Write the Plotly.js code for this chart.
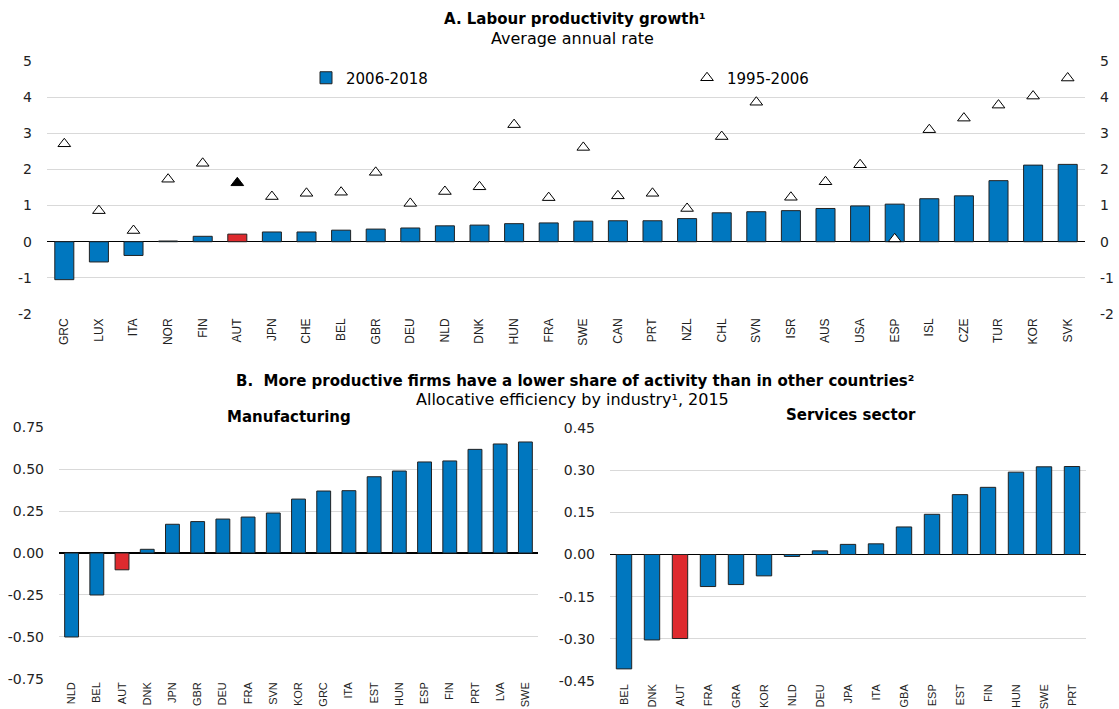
<!DOCTYPE html>
<html>
<head>
<meta charset="utf-8">
<script src="https://cdn.plot.ly/plotly-3.0.1.min.js"></script>
<style>
  html, body { margin: 0; padding: 0; background: #fff; }
  #plot { width: 1119px; height: 709px; }
</style>
</head>
<body>
<div id="plot"></div>
<script>
// Panel A: labour productivity growth, average annual rate
const countriesA = ['GRC', 'LUX', 'ITA', 'NOR', 'FIN', 'AUT', 'JPN', 'CHE', 'BEL', 'GBR',
  'DEU', 'NLD', 'DNK', 'HUN', 'FRA', 'SWE', 'CAN', 'PRT', 'NZL', 'CHL',
  'SVN', 'ISR', 'AUS', 'USA', 'ESP', 'ISL', 'CZE', 'TUR', 'KOR', 'SVK'];
const growth2006_2018 = [-1.05, -0.56, -0.38, 0.02, 0.15, 0.21, 0.27, 0.27, 0.32, 0.35,
  0.38, 0.44, 0.46, 0.50, 0.52, 0.57, 0.58, 0.58, 0.64, 0.80,
  0.83, 0.86, 0.92, 0.99, 1.04, 1.19, 1.27, 1.69, 2.12, 2.14];
const growth1995_2006 = [2.71, 0.86, 0.31, 1.73, 2.17, 1.63, 1.25, 1.34, 1.37, 1.92,
  1.06, 1.39, 1.52, 3.24, 1.22, 2.61, 1.27, 1.34, 0.92, 2.91,
  3.86, 1.23, 1.66, 2.13, 0.08, 3.10, 3.42, 3.78, 4.03, 4.53];
const ticksA = [-2, -1, 0, 1, 2, 3, 4, 5];

// Panel B: allocative efficiency by industry, 2015
const countriesManuf = ['NLD', 'BEL', 'AUT', 'DNK', 'JPN', 'GBR', 'DEU', 'FRA', 'SVN', 'KOR',
  'GRC', 'ITA', 'EST', 'HUN', 'ESP', 'FIN', 'PRT', 'LVA', 'SWE'];
const manufacturing = [-0.50, -0.25, -0.10, 0.022, 0.171, 0.187, 0.202, 0.214, 0.238, 0.321,
  0.369, 0.371, 0.454, 0.488, 0.542, 0.548, 0.617, 0.649, 0.661];
const ticksManuf = [-0.75, -0.5, -0.25, 0, 0.25, 0.5, 0.75];

const countriesServ = ['BEL', 'DNK', 'AUT', 'FRA', 'GRA', 'KOR', 'NLD', 'DEU', 'JPA', 'ITA',
  'GBA', 'ESP', 'EST', 'FIN', 'HUN', 'SWE', 'PRT'];
const services = [-0.407, -0.304, -0.299, -0.114, -0.107, -0.076, -0.007, 0.013, 0.036, 0.038,
  0.098, 0.143, 0.213, 0.239, 0.293, 0.312, 0.313];
const ticksServ = [-0.45, -0.3, -0.15, 0, 0.15, 0.3, 0.45];

const BLUE = '#0077bf';
const RED = '#de2a2e';
const FONT = 'DejaVu Sans, Liberation Sans, Arial, sans-serif';
const LABEL_FONT = 'Liberation Sans, Arial, sans-serif';
const GRID = '#d9d9d9';

function barColors(cats) {
  return cats.map(c => c === 'AUT' ? RED : BLUE);
}

const traces = [
  {
    type: 'bar', x: countriesA, y: growth2006_2018, name: '2006-2018',
    marker: { color: barColors(countriesA), line: { color: '#222', width: 1 } },
    xaxis: 'x', yaxis: 'y', legend: 'legend'
  },
  {
    type: 'scatter', mode: 'markers', x: countriesA, y: growth1995_2006, name: '1995-2006',
    marker: {
      symbol: 'triangle-up', size: 11,
      color: countriesA.map(c => c === 'AUT' ? '#000' : '#fff'),
      line: { color: '#000', width: 1 }
    },
    xaxis: 'x', yaxis: 'y', legend: 'legend2'
  },
  {
    // carries the right-hand axis of panel A
    type: 'scatter', mode: 'markers', x: countriesA, y: growth2006_2018,
    marker: { opacity: 0 }, showlegend: false, hoverinfo: 'skip',
    xaxis: 'x', yaxis: 'y2'
  },
  {
    type: 'bar', x: countriesManuf, y: manufacturing, showlegend: false,
    marker: { color: barColors(countriesManuf), line: { color: '#222', width: 1 } },
    xaxis: 'x2', yaxis: 'y3'
  },
  {
    type: 'bar', x: countriesServ, y: services, showlegend: false,
    marker: { color: barColors(countriesServ), line: { color: '#222', width: 1 } },
    xaxis: 'x3', yaxis: 'y4'
  }
];

const W = 1119, H = 709;
const px = v => v / W;
const py = v => 1 - v / H;

const xBase = {
  type: 'category', tickangle: -90, showgrid: false, zeroline: false,
  showline: false, ticks: '', tickfont: { family: LABEL_FONT, size: 12, color: '#222' },
  ticklabelstandoff: 1, fixedrange: true
};
const xBottom = Object.assign({}, xBase, {
  tickfont: { family: LABEL_FONT, size: 11, color: '#222' }, ticklabelstandoff: 0
});
const yBase = {
  showgrid: true, gridcolor: GRID, gridwidth: 1,
  zeroline: true, zerolinecolor: '#000', zerolinewidth: 1.5,
  showline: false, ticks: '', tickfont: { size: 14, color: '#222' },
  ticklabelstandoff: 14, fixedrange: true
};

const layout = {
  width: W, height: H,
  margin: { l: 0, r: 0, t: 0, b: 0 },
  paper_bgcolor: '#fff', plot_bgcolor: '#fff',
  font: { family: FONT, color: '#000', size: 14 },
  barmode: 'group',
  bargap: 0.45,
  showlegend: true,
  legend: {
    x: px(306), y: py(78), xanchor: 'left', yanchor: 'middle',
    bgcolor: 'rgba(0,0,0,0)', font: { size: 15 }, itemwidth: 30
  },
  legend2: {
    x: px(687), y: py(78), xanchor: 'left', yanchor: 'middle',
    bgcolor: 'rgba(0,0,0,0)', font: { size: 15 }, itemwidth: 30
  },
  xaxis: Object.assign({}, xBase, {
    domain: [px(47), px(1085)], anchor: 'y', range: [-0.5, countriesA.length - 0.5]
  }),
  yaxis: Object.assign({}, yBase, {
    domain: [py(314), py(61)], anchor: 'x', range: [-2, 5.001],
    tickvals: ticksA, ticktext: ticksA.map(String)
  }),
  yaxis2: Object.assign({}, yBase, {
    overlaying: 'y', side: 'right', anchor: 'x', range: [-2, 5.001],
    showgrid: false, zeroline: false,
    tickvals: ticksA, ticktext: ticksA.map(String)
  }),
  xaxis2: Object.assign({}, xBottom, {
    domain: [px(59), px(538)], anchor: 'y3', range: [-0.5, countriesManuf.length - 0.5]
  }),
  yaxis3: Object.assign({}, yBase, {
    domain: [py(679), py(427)], anchor: 'x2', range: [-0.7501, 0.7501],
    tickvals: ticksManuf, ticktext: ticksManuf.map(v => v.toFixed(2))
  }),
  xaxis3: Object.assign({}, xBottom, {
    domain: [px(610), px(1086)], anchor: 'y4', range: [-0.5, countriesServ.length - 0.5]
  }),
  yaxis4: Object.assign({}, yBase, {
    domain: [py(681), py(428)], anchor: 'x3', range: [-0.4501, 0.4501],
    tickvals: ticksServ, ticktext: ticksServ.map(v => v.toFixed(2))
  }),
  annotations: [
    { text: '<b>A. Labour productivity growth¹</b>', x: px(575), y: py(19), xref: 'paper', yref: 'paper',
      showarrow: false, xanchor: 'center', yanchor: 'middle', font: { size: 15 } },
    { text: 'Average annual rate', x: px(572), y: py(38), xref: 'paper', yref: 'paper',
      showarrow: false, xanchor: 'center', yanchor: 'middle', font: { size: 16 } },
    { text: '<b>B.  More productive firms have a lower share of activity than in other countries²</b>',
      x: px(575), y: py(381), xref: 'paper', yref: 'paper',
      showarrow: false, xanchor: 'center', yanchor: 'middle', font: { size: 15 } },
    { text: 'Allocative efficiency by industry¹, 2015', x: px(572), y: py(399), xref: 'paper', yref: 'paper',
      showarrow: false, xanchor: 'center', yanchor: 'middle', font: { size: 16 } },
    { text: '<b>Manufacturing</b>', x: px(289), y: py(417), xref: 'paper', yref: 'paper',
      showarrow: false, xanchor: 'center', yanchor: 'middle', font: { size: 15 } },
    { text: '<b>Services sector</b>', x: px(851), y: py(415), xref: 'paper', yref: 'paper',
      showarrow: false, xanchor: 'center', yanchor: 'middle', font: { size: 15 } }
  ]
};

Plotly.newPlot('plot', traces, layout, { displayModeBar: false, staticPlot: true });
</script>
</body>
</html>
